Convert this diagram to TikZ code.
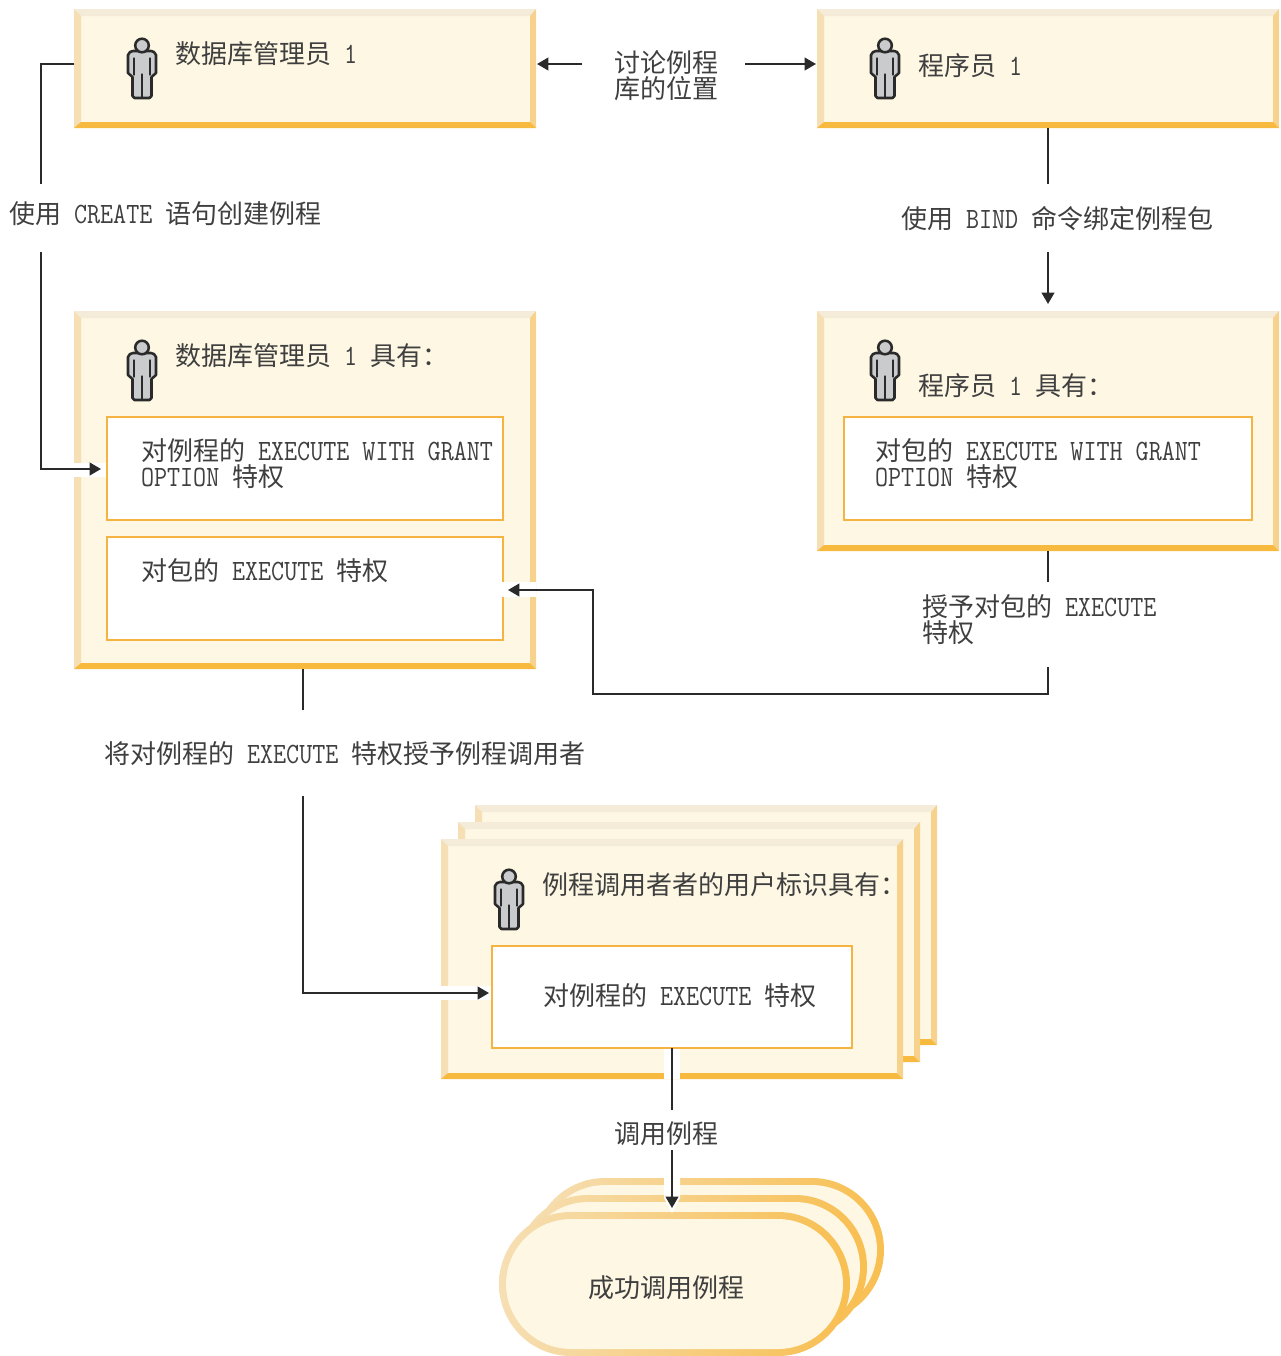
\documentclass[tikz,border=0pt]{standalone}
\usepackage{fontspec}
\setmainfont{Noto Sans CJK SC}
\newfontfamily\narrowlat{Latin Modern Mono}[FakeStretch=0.86]
\usetikzlibrary{arrows.meta}
\definecolor{cream}{HTML}{FDF7E3}
\definecolor{bevT}{HTML}{F5EBD9}
\definecolor{bevL}{HTML}{F6DFB4}
\definecolor{bevR}{HTML}{F6D28C}
\definecolor{bevB}{HTML}{F8B93F}
\definecolor{ink}{HTML}{3F3F3F}
\definecolor{wire}{HTML}{2A2A2A}
\definecolor{frame}{HTML}{F5B342}
\definecolor{figgray}{HTML}{C9CBCD}
\newcommand\Lt[1]{{\narrowlat\fontsize{22.1}{19.5}\selectfont #1}}
\newcommand\bevbox[5]{%
  \node[panel,minimum width={(#4-#2)*0.75pt},minimum height={(#5-#3)*0.75pt}] (#1) at ({(#2+#4)/2},{(#3+#5)/2}) {};
  \fill[bevT] (#2,#3)--(#4,#3)--({#4-6},{#3+7})--({#2+7},{#3+7})--cycle;
  \fill[bevL] (#2,#3)--({#2+7},{#3+7})--({#2+7},{#5-6})--(#2,#5)--cycle;
  \fill[bevR] (#4,#3)--({#4-6},{#3+7})--({#4-6},{#5-6})--(#4,#5)--cycle;
  \fill[bevB] (#2,#5)--({#2+7},{#5-6})--({#4-6},{#5-6})--(#4,#5)--cycle;
}
\newcommand\innerbox[5]{%
  \node[slot,minimum width={(#4-#2)*0.75pt},minimum height={(#5-#3)*0.75pt}] (#1) at ({(#2+#4)/2},{(#3+#5)/2}) {};
}
\newcommand\pillshape[5]{%
  \node[pillout,minimum width={(#4-#2)*0.75pt},minimum height={(#5-#3)*0.75pt}] (#1) at ({(#2+#4)/2},{(#3+#5)/2}) {};
  \node[pillin,minimum width={(#4-#2-14)*0.75pt},minimum height={(#5-#3-14)*0.75pt}] at (#1) {};
}
\tikzset{
  panel/.style={rectangle,fill=cream,inner sep=0pt,outer sep=0pt},
  slot/.style={rectangle,draw=frame,line width=1.5pt,fill=white,inner sep=0pt,outer sep=0pt},
  pillout/.style={rectangle,rounded corners=54pt,left color=bevL,right color=bevB!85!bevL,inner sep=0pt,outer sep=0pt},
  pillin/.style={rectangle,rounded corners=49pt,fill=cream,inner sep=0pt,outer sep=0pt},
  txt/.style={anchor=west,inner sep=0pt,outer sep=0pt,text=ink,align=left,font=\fontsize{19.5}{19.5}\selectfont},
  wireline/.style={draw=wire,line width=1.4pt},
  arrowline/.style={wireline,-{Triangle[length=8.5pt,width=9.5pt]}},
  halo/.style={fill=white},
  person/.pic={
    \draw[draw=wire,fill=figgray,line width=1.9pt,line join=round]
      (-9,13)--(9,13)--(12,14)--(14,17)--(14,35)--(9.5,39)--(9.5,58)--(7.5,60)--(-7.5,60)--(-9.5,58)--(-9.5,39)--(-14,35)--(-14,17)--(-12,14)--cycle;
    \draw[draw=wire,fill=figgray,line width=1.9pt] (0,7.5) circle[radius=6.8];
    \draw[draw=wire,line width=0.9pt,line cap=round] (-8,20)--(-8,37) (8,20)--(8,37) (0,36)--(0,59);
  },
}
\begin{document}
\begin{tikzpicture}[x=0.75pt,y=-0.75pt]
\useasboundingbox (0,0) rectangle (1281,1356);
% panels
\bevbox{dbaA}{74}{9}{536}{128}
\bevbox{progA}{817}{9}{1279}{128}
\bevbox{dbaB}{74}{311}{536}{669}
\bevbox{progB}{817}{311}{1279}{551}
\bevbox{callC}{475}{805}{937}{1045}
\bevbox{callB}{458}{822}{920}{1062}
\bevbox{callA}{441}{839}{903}{1079}
\innerbox{slotA}{107}{417}{503}{520}
\innerbox{slotB}{107}{537}{503}{640}
\innerbox{slotC}{844}{417}{1252}{520}
\innerbox{slotD}{492}{946}{852}{1048}
% pills
\pillshape{pillC}{533}{1178}{884}{1322}
\pillshape{pillB}{516}{1195}{867}{1339}
\pillshape{pillA}{499}{1212}{850}{1356}
% figures
\pic at (142,38) {person};
\pic at (885,38) {person};
\pic at (142,340) {person};
\pic at (885,340) {person};
\pic at (509,869) {person};
% panel text
\node[txt] (tDbaA) at (175,54) {数据库管理员\Lt{ 1}};
\node[txt] (tProgA) at (918,66) {程序员\Lt{ 1}};
\node[txt] (tDbaB) at (175,356) {数据库管理员\Lt{ 1 }具有：};
\node[txt] (tProgB) at (918,386) {程序员\Lt{ 1 }具有：};
\node[txt] (tSlotA) at (141,464) {对例程的\Lt{ EXECUTE WITH GRANT}\\\Lt{OPTION }特权};
\node[txt] (tSlotB) at (141,571) {对包的\Lt{ EXECUTE }特权};
\node[txt] (tSlotC) at (875,464) {对包的\Lt{ EXECUTE WITH GRANT}\\\Lt{OPTION }特权};
\node[txt] (tCall) at (542,885) {例程调用者者的用户标识具有：};
\node[txt] (tSlotD) at (543,996) {对例程的\Lt{ EXECUTE }特权};
\node[txt] (tPill) at (588,1288) {成功调用例程};
% connector labels
\node[txt] (lDiscuss) at (614,76) {讨论例程\\库的位置};
\node[txt] (lCreate) at (9,214) {使用\Lt{ CREATE }语句创建例程};
\node[txt] (lBind) at (901,219) {使用\Lt{ BIND }命令绑定例程包};
\node[txt] (lGrant) at (922,620) {授予对包的\Lt{ EXECUTE}\\特权};
\node[txt] (lRoutine) at (104,754) {将对例程的\Lt{ EXECUTE }特权授予例程调用者};
\node[txt] (lInvoke) at (614,1134) {调用例程};
% connector ends
\coordinate (aS) at (74,64);
\coordinate (aE) at (41,184);
\coordinate (bS) at (41,252);
\coordinate (bE) at (101,469);
\coordinate (cS) at (582,64);
\coordinate (cE) at (537,64);
\coordinate (dS) at (745,64);
\coordinate (dE) at (816,64);
\coordinate (eS) at (1048,128);
\coordinate (eE) at (1048,184);
\coordinate (fS) at (1048,252);
\coordinate (fE) at (1048,304);
\coordinate (gS) at (1048,551);
\coordinate (gE) at (1048,582);
\coordinate (hS) at (1048,667);
\coordinate (hM) at (593,694);
\coordinate (hE) at (508,590);
\coordinate (iS) at (303,669);
\coordinate (iE) at (303,710);
\coordinate (jS) at (303,796);
\coordinate (jE) at (489,993);
\coordinate (kS) at (672,1048);
\coordinate (kE) at (672,1110);
\coordinate (mS) at (672,1150);
\coordinate (mE) at (672,1208);
% halos
\fill[halo] (74,463) rectangle (106,477);
\fill[halo] (502,582) rectangle (536,597);
\fill[halo] (441,986) rectangle (491,1000);
\fill[halo] (664,1049) rectangle (680,1079);
\fill[halo] (664,1178) rectangle (680,1198) -- (680,1198) -- (672,1213) -- (664,1198) -- cycle;
% connectors
\draw[wireline] (aS) -| (aE);
\draw[arrowline] (bS) |- (bE);
\draw[arrowline] (cS) -- (cE);
\draw[arrowline] (dS) -- (dE);
\draw[wireline] (eS) -- (eE);
\draw[arrowline] (fS) -- (fE);
\draw[wireline] (gS) -- (gE);
\draw[arrowline] (hS) |- (hM) |- (hE);
\draw[wireline] (iS) -- (iE);
\draw[arrowline] (jS) |- (jE);
\draw[wireline] (kS) -- (kE);
\draw[arrowline] (mS) -- (mE);
\end{tikzpicture}
\end{document}
